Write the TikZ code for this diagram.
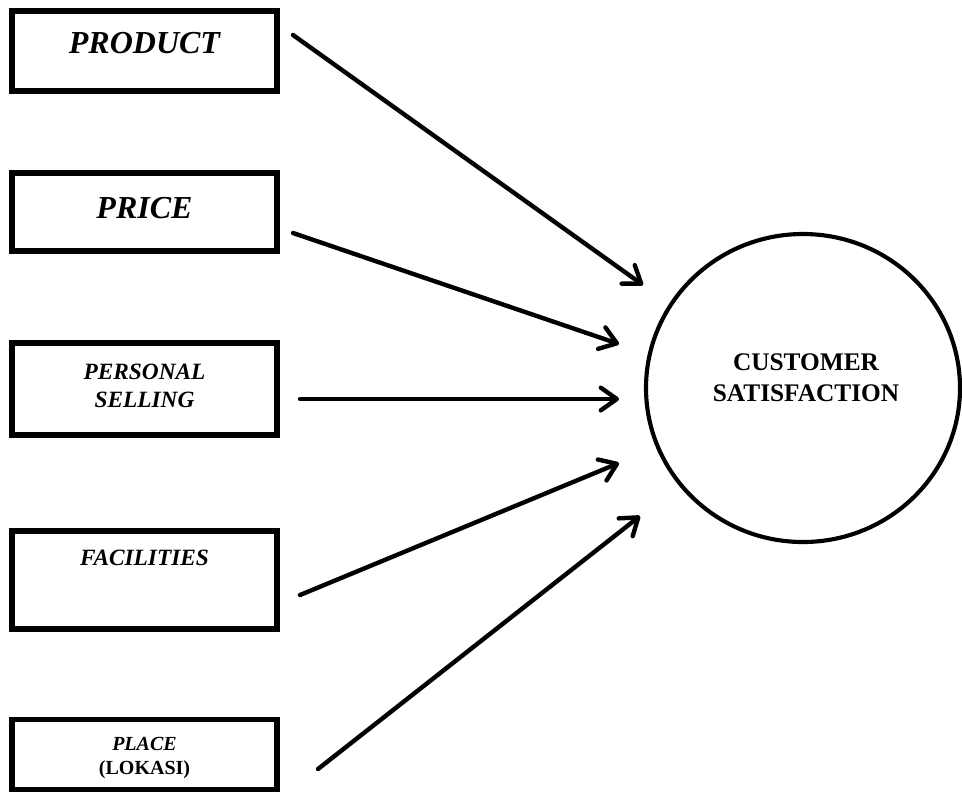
\documentclass[tikz,border=0pt]{standalone}
\usepackage{fontspec}
\setmainfont{Liberation Serif}
\usetikzlibrary{arrows.meta}
\begin{document}
\begin{tikzpicture}[x=0.75pt,y=-0.75pt,
  varbox/.style={draw=black,line width=3.8pt,rectangle,inner sep=0pt,
    minimum width=198.75pt},
  lbl/.style={inner sep=0pt,align=center,font=\bfseries\itshape},
  link/.style={line width=3.3pt,line cap=round,
    -{Straight Barb[length=12pt,width=17pt,line cap=round,line join=round]}}]
  \useasboundingbox (0,0) rectangle (962,794);

  % independent variables
  \node[varbox,minimum height=60pt] (product) at (144.5,51) {};
  \node[lbl,font=\fontsize{24}{26}\selectfont\bfseries\itshape] (tproduct) at (144.5,43) {PRODUCT};

  \node[varbox,minimum height=58.5pt] (price) at (144.5,212) {};
  \node[lbl,font=\fontsize{24}{26}\selectfont\bfseries\itshape] (tprice) at (144.5,208) {PRICE};

  \node[varbox,minimum height=69pt] (selling) at (144.5,389) {};
  \node[lbl,font=\fontsize{17.5}{21}\selectfont\bfseries\itshape] (tselling) at (144.5,386) {PERSONAL\\SELLING};

  \node[varbox,minimum height=73.5pt] (facil) at (144.5,580) {};
  \node[lbl,font=\fontsize{17.5}{21}\selectfont\bfseries\itshape] (tfacil) at (144.5,558) {FACILITIES};

  \node[varbox,minimum height=53pt] (place) at (144.5,754.5) {};
  \node[lbl,font=\fontsize{15}{17.5}\selectfont\bfseries] (tplace) at (144.5,758) {\textit{PLACE}\\(LOKASI)};

  % dependent variable
  \draw[line width=3.1pt] (803,388) ellipse [x radius=157,y radius=154];
  \node[lbl,font=\fontsize{19}{23.5}\selectfont\bfseries] (sat) at (806,378) {CUSTOMER\\SATISFACTION};

  % arrow end points
  \coordinate (s1) at (293,35);   \coordinate (e1) at (643,285);
  \coordinate (s2) at (293,233);  \coordinate (e2) at (619,344);
  \coordinate (s3) at (300,399);  \coordinate (e3) at (619,399);
  \coordinate (s4) at (300,595);  \coordinate (e4) at (619,463);
  \coordinate (s5) at (318,769);  \coordinate (e5) at (640,516);

  \draw[link] (s1) -- (e1);
  \draw[link] (s2) -- (e2);
  \draw[link] (s3) -- (e3);
  \draw[link] (s4) -- (e4);
  \draw[link] (s5) -- (e5);
\end{tikzpicture}
\end{document}
